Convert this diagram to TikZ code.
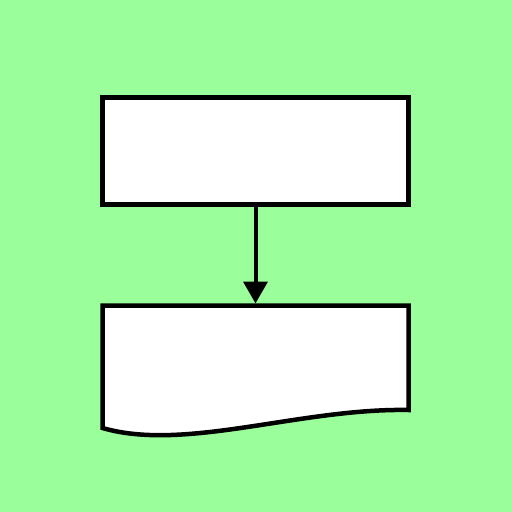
\documentclass[tikz,border=0pt]{standalone}
\usetikzlibrary{arrows.meta}
\definecolor{bggreen}{RGB}{154,255,154}

\begin{document}
\begin{tikzpicture}[x=1pt,y=-1pt,
	box/.style={draw=black, fill=white, line width=4.5pt, rectangle, inner sep=0pt, minimum width=306pt, minimum height=107pt},
	link/.style={line width=4pt, -{Triangle[length=22pt,width=24pt]}}]
	%%%%% START %%%%%
	
	\fill[bggreen] (0,0) rectangle (512,512);
	\useasboundingbox (0,0) rectangle (512,512);
	
	\node[box] (proc) at (255.5,151) {};
	
	% document shape
	\draw[line width=4.5pt, fill=white, line join=miter] (102.5,428) -- (102.5,305.5) -- (408.5,305.5) -- (408.5,410)
		.. controls (300,408) and (185,452) .. cycle;
	\coordinate (doc) at (255.5,303.5);
	
	\draw[link] (proc.south) -- (doc);
	
	%%%%% END %%%%%
\end{tikzpicture}
\end{document}
